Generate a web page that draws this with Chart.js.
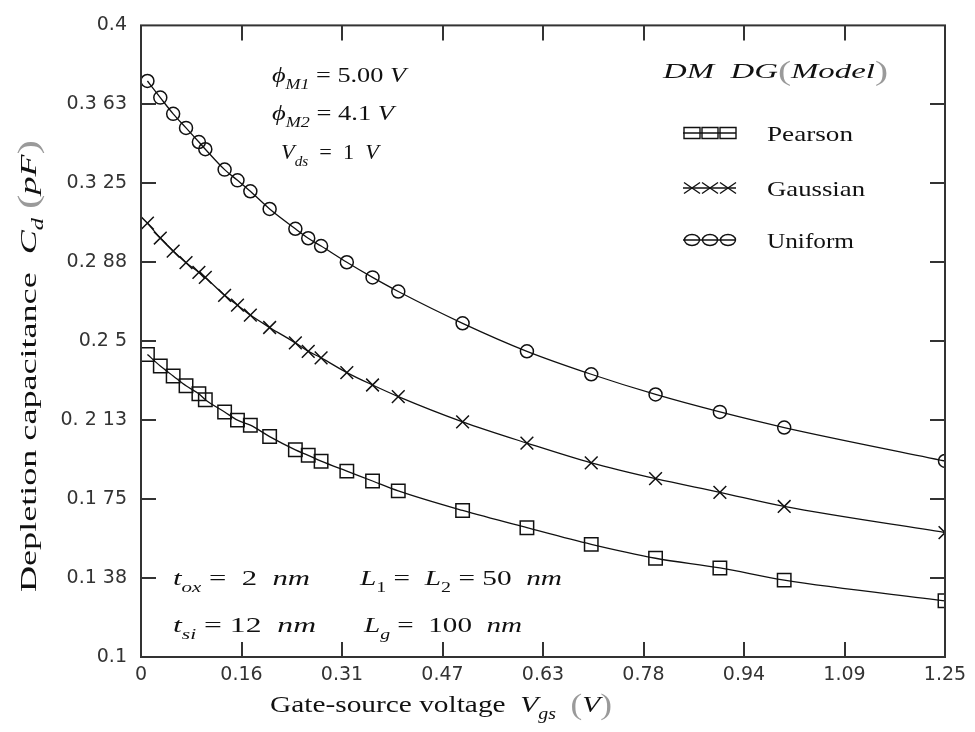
<!DOCTYPE html>
<html>
<head>
<meta charset="utf-8">
<script src="https://cdn.jsdelivr.net/npm/chart.js@4.4.0/dist/chart.umd.min.js"></script>
<style>
  html, body { margin: 0; background: #fff; }
</style>
</head>
<body>
<canvas id="myChart" width="975" height="732"></canvas>
<script>
// gate-source voltage (V)
const vgs = [0.01, 0.03, 0.05, 0.07, 0.09, 0.10, 0.13, 0.15, 0.17, 0.20, 0.24, 0.26, 0.28,
             0.32, 0.36, 0.40, 0.50, 0.60, 0.70, 0.80, 0.90, 1.00, 1.25];
// depletion capacitance (pF)
const pearson  = [0.2437, 0.2382, 0.2335, 0.2288, 0.2250, 0.2222, 0.2164, 0.2125, 0.2101, 0.2047, 0.1984, 0.1958, 0.1930,
                  0.1883, 0.1836, 0.1789, 0.1696, 0.1614, 0.1535, 0.1469, 0.1423, 0.1365, 0.1267];
const gaussian = [0.3061, 0.2990, 0.2928, 0.2873, 0.2827, 0.2803, 0.2718, 0.2671, 0.2624, 0.2565, 0.2492, 0.2452, 0.2421,
                  0.2351, 0.2292, 0.2237, 0.2117, 0.2016, 0.1922, 0.1847, 0.1782, 0.1715, 0.1591];
const uniform  = [0.3736, 0.3657, 0.3580, 0.3513, 0.3446, 0.3412, 0.3315, 0.3264, 0.3212, 0.3128, 0.3034, 0.2989, 0.2952,
                  0.2875, 0.2803, 0.2736, 0.2585, 0.2452, 0.2343, 0.2247, 0.2164, 0.2090, 0.1931];

const xTicks = [0, 0.15625, 0.3125, 0.46875, 0.625, 0.78125, 0.9375, 1.09375, 1.25];
const xTickLabels = ['0', '0.16', '0.31', '0.47', '0.63', '0.78', '0.94', '1.09', '1.25'];
const yTicks = [0.1, 0.1375, 0.175, 0.2125, 0.25, 0.2875, 0.325, 0.3625, 0.4];
const yTickLabels = ['0.1', '0.1 38', '0.1 75', '0. 2 13', '0.2 5', '0.2 88', '0.3 25', '0.3 63', '0.4'];

const serif = '"Liberation Serif", "DejaVu Serif", serif';
const ink = '#111';

function setFont(ctx, f, size) {
  let fs = size;
  if (f.includes('s')) fs = size * 0.68;
  if (f.includes('b')) fs = size * 1.2;
  ctx.font = (f.includes('i') ? 'italic ' : '') + fs.toFixed(1) + 'px ' + serif;
}

// draws a run of text pieces; flags: i italic, s subscript, b big, g grey
function drawRich(ctx, parts, x, y, size, opts) {
  opts = opts || {};
  let total = 0;
  parts.forEach(p => { setFont(ctx, p[1], size); total += ctx.measureText(p[0]).width; });
  const sx = opts.width ? opts.width / total : 1;
  ctx.save();
  ctx.translate(x, y);
  if (opts.rotate) ctx.rotate(opts.rotate);
  ctx.scale(sx, 1);
  ctx.textAlign = 'left';
  ctx.textBaseline = 'alphabetic';
  let cx = 0;
  parts.forEach(p => {
    setFont(ctx, p[1], size);
    ctx.fillStyle = p[1].includes('g') ? '#9a9a9a' : ink;
    const dy = p[1].includes('s') ? size * 0.3 : (p[1].includes('b') ? size * 0.08 : 0);
    ctx.fillText(p[0], cx, dy);
    cx += ctx.measureText(p[0]).width;
  });
  ctx.restore();
}

function marker(ctx, style, x, y, w, h) {
  ctx.beginPath();
  if (style === 'rect') {
    ctx.rect(x - w / 2, y - h / 2, w, h);
  } else if (style === 'circle') {
    ctx.ellipse(x, y, w / 2, h / 2, 0, 0, Math.PI * 2);
  } else {
    ctx.moveTo(x - w / 2, y - h / 2); ctx.lineTo(x + w / 2, y + h / 2);
    ctx.moveTo(x - w / 2, y + h / 2); ctx.lineTo(x + w / 2, y - h / 2);
  }
  ctx.stroke();
}

const framePlugin = {
  id: 'frame',
  afterDraw(chart) {
    const { ctx, chartArea: a, scales } = chart;
    ctx.save();
    ctx.strokeStyle = '#333';
    ctx.lineWidth = 2;
    ctx.strokeRect(a.left, a.top, a.right - a.left, a.bottom - a.top);
    const tl = 15;
    ctx.beginPath();
    xTicks.slice(1, -1).forEach(v => {
      const px = Math.round(scales.x.getPixelForValue(v));
      ctx.moveTo(px, a.bottom); ctx.lineTo(px, a.bottom - tl);
      ctx.moveTo(px, a.top); ctx.lineTo(px, a.top + tl);
    });
    yTicks.slice(1, -1).forEach(v => {
      const py = Math.round(scales.y.getPixelForValue(v));
      ctx.moveTo(a.left, py); ctx.lineTo(a.left + tl, py);
      ctx.moveTo(a.right, py); ctx.lineTo(a.right - tl, py);
    });
    ctx.stroke();
    ctx.restore();
  }
};

const textPlugin = {
  id: 'texts',
  afterDraw(chart) {
    const ctx = chart.ctx;
    // axis titles
    drawRich(ctx, [['Gate-source voltage  ', ''], ['V', 'i'], ['gs', 'is'], ['  ', ''], ['(', 'bg'], ['V', 'i'], [')', 'bg']],
             270, 712, 24, { width: 342 });
    drawRich(ctx, [['Depletion capacitance  ', ''], ['C', 'i'], ['d', 'is'], [' ', ''], ['(', 'bg'], ['pF', 'i'], [')', 'bg']],
             36, 592, 24, { width: 452, rotate: -Math.PI / 2 });
    // parameters
    drawRich(ctx, [['\u03d5', 'i'], ['M1', 'is'], [' = 5.00 ', ''], ['V', 'i']], 272, 82, 22, { width: 134 });
    drawRich(ctx, [['\u03d5', 'i'], ['M2', 'is'], [' = 4.1 ', ''], ['V', 'i']], 272, 120, 22, { width: 122 });
    drawRich(ctx, [['V', 'i'], ['ds', 'is'], ['  =  1  ', ''], ['V', 'i']], 281, 159, 22, { width: 98 });
    drawRich(ctx, [['DM  DG', 'i'], ['(', 'bg'], ['Model', 'i'], [')', 'bg']], 663, 78, 22, { width: 225 });
    drawRich(ctx, [['t', 'i'], ['ox', 'is'], [' =  2  ', ''], ['nm', 'i']], 173, 585, 22, { width: 137 });
    drawRich(ctx, [['t', 'i'], ['si', 'is'], [' = 12  ', ''], ['nm', 'i']], 173, 632, 22, { width: 143 });
    drawRich(ctx, [['L', 'i'], ['1', 's'], [' =  ', ''], ['L', 'i'], ['2', 's'], [' = 50  ', ''], ['nm', 'i']], 360, 585, 22, { width: 202 });
    drawRich(ctx, [['L', 'i'], ['g', 'is'], [' =  100  ', ''], ['nm', 'i']], 364, 632, 22, { width: 158 });

    // legend
    const rows = [133, 188, 240];
    const widths = [86, 98, 87];
    chart.data.datasets.forEach((ds, i) => {
      const y = rows[i];
      ctx.save();
      ctx.strokeStyle = ink;
      ctx.lineWidth = 1.4;
      ctx.beginPath(); ctx.moveTo(683, y); ctx.lineTo(736, y); ctx.stroke();
      [692, 710, 728].forEach(mx => {
        if (ds.pointStyle === 'rect') marker(ctx, 'rect', mx, y, 16, 11);
        else if (ds.pointStyle === 'circle') marker(ctx, 'circle', mx, y, 15, 11);
        else marker(ctx, 'cross', mx, y, 16, 11);
      });
      ctx.restore();
      drawRich(ctx, [[ds.label, '']], 767, y + 8, 22, { width: widths[i] });
    });
  }
};

function series(label, values, style, radius) {
  return {
    label: label,
    data: vgs.map((x, i) => ({ x: x, y: values[i] })),
    borderColor: ink,
    borderWidth: 1.3,
    pointStyle: style,
    pointRadius: radius,
    pointBorderColor: ink,
    pointBackgroundColor: 'rgba(0,0,0,0)',
    pointBorderWidth: 1.5,
    cubicInterpolationMode: 'monotone',
    clip: 0,
    fill: false
  };
}

const tickFont = { family: '"DejaVu Sans", "Liberation Sans", sans-serif', size: 19 };

new Chart(document.getElementById('myChart').getContext('2d'), {
  type: 'line',
  data: {
    datasets: [
      series('Pearson', pearson, 'rect', 9.5),
      series('Gaussian', gaussian, 'crossRot', 9),
      series('Uniform', uniform, 'circle', 6.5)
    ]
  },
  options: {
    responsive: false,
    devicePixelRatio: 1,
    animation: false,
    layout: { padding: { top: 16, right: 30, left: 0, bottom: 0 } },
    plugins: { legend: { display: false }, tooltip: { enabled: false } },
    scales: {
      x: {
        type: 'linear',
        min: 0,
        max: 1.25,
        afterBuildTicks: s => { s.ticks = xTicks.map(v => ({ value: v })); },
        afterFit: s => { s.height = 75; },
        grid: { display: false, drawTicks: false },
        border: { display: false },
        ticks: {
          autoSkip: false, maxRotation: 0, padding: 7, color: '#333', font: tickFont,
          callback: (v, i) => xTickLabels[i]
        }
      },
      y: {
        type: 'linear',
        min: 0.1,
        max: 0.4,
        afterBuildTicks: s => { s.ticks = yTicks.map(v => ({ value: v })); },
        afterFit: s => { s.width = 141; },
        grid: { display: false, drawTicks: false },
        border: { display: false },
        ticks: {
          autoSkip: false, padding: 14, color: '#333', font: tickFont,
          callback: (v, i) => yTickLabels[i]
        }
      }
    }
  },
  plugins: [framePlugin, textPlugin]
});
</script>
</body>
</html>
